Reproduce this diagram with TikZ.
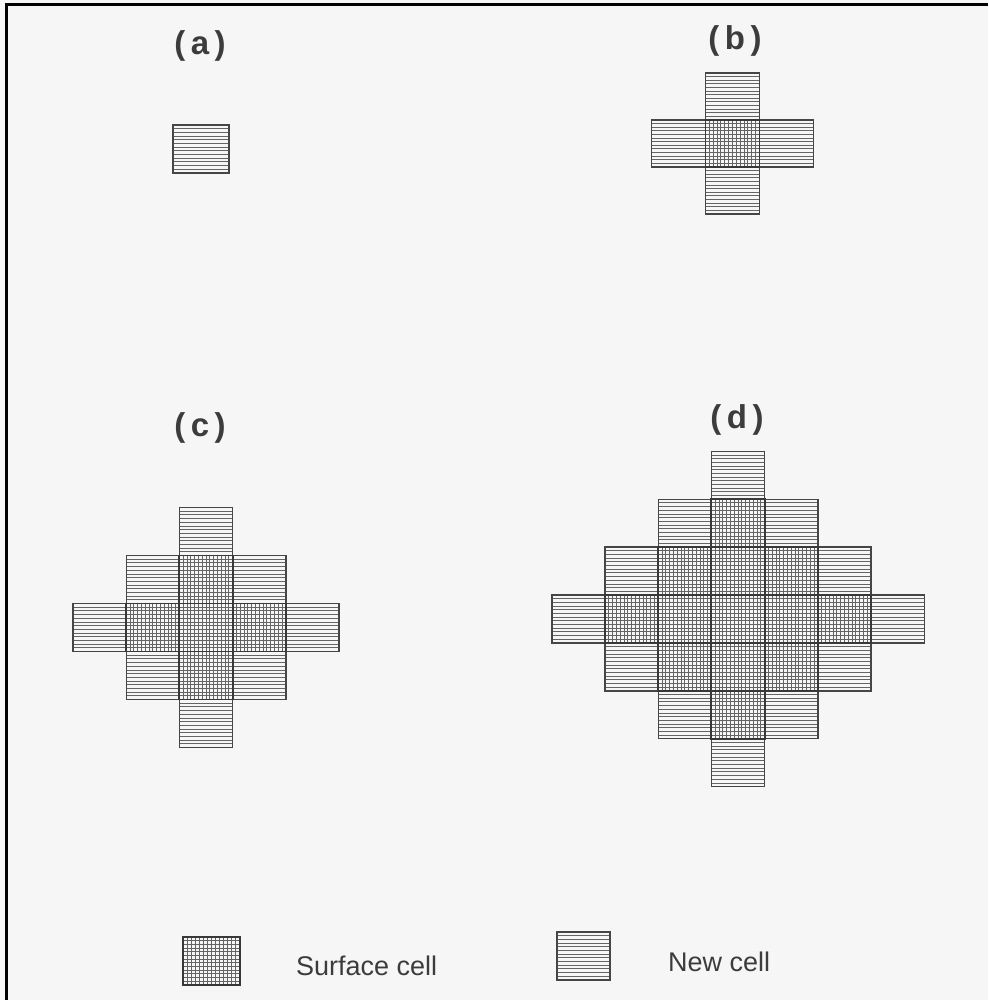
\documentclass[tikz,border=0pt]{standalone}
\usepackage{fontspec}
\setmainfont{Liberation Sans}
\definecolor{paper}{RGB}{246,246,246}
\definecolor{ink}{RGB}{70,70,70}
\definecolor{hatch}{RGB}{100,100,100}
\definecolor{labelink}{RGB}{60,60,60}
\tikzset{
  hatchline/.style={draw=hatch, line width=0.9pt},
  newborder/.style={draw=ink, line width=1.4pt},
  surfborder/.style={draw=ink!80!black, line width=1.9pt},
  panellabel/.style={font=\bfseries\fontsize{33}{33}\selectfont, text=labelink, inner sep=0pt},
  legendtext/.style={font=\fontsize{27}{27}\selectfont, text=labelink, inner sep=0pt, anchor=west},
  frameline/.style={line width=3pt, black},
}
% x0 y0 w h : horizontal-lines cell
\newcommand\newcellbox[4]{%
  \begin{scope}
    \clip (#1,#2) rectangle ++(#3,#4);
    \foreach \k in {1,...,12}{\draw[hatchline] (#1,{#2+\k*#4/13}) -- ++(#3,0);}
  \end{scope}
  \draw[newborder] (#1,#2) rectangle ++(#3,#4);
}
% x0 y0 w h : grid cell
\newcommand\surfcellbox[4]{%
  \begin{scope}
    \clip (#1,#2) rectangle ++(#3,#4);
    \foreach \k in {1,...,12}{\draw[hatchline] (#1,{#2+\k*#4/13}) -- ++(#3,0);}
    \foreach \k in {1,...,13}{\draw[hatchline] ({#1+\k*#3/14},#2) -- ++(0,#4);}
  \end{scope}
  \draw[surfborder] (#1,#2) rectangle ++(#3,#4);
}
% cx cy w h r
\newcommand\cagrid[5]{%
  \foreach \i in {-#5,...,#5}{%
    \foreach \j in {-#5,...,#5}{%
      \pgfmathtruncatemacro\dd{abs(\i)+abs(\j)}%
      \ifnum\dd=#5\relax
        \newcellbox{#1+\i*#3-#3/2}{#2+\j*#4-#4/2}{#3}{#4}
      \fi
    }%
  }%
  \foreach \i in {-#5,...,#5}{%
    \foreach \j in {-#5,...,#5}{%
      \pgfmathtruncatemacro\dd{abs(\i)+abs(\j)}%
      \ifnum\dd<#5\relax
        \surfcellbox{#1+\i*#3-#3/2}{#2+\j*#4-#4/2}{#3}{#4}
      \fi
    }%
  }%
}
\begin{document}
\begin{tikzpicture}[x=1pt,y=-1pt]
  \useasboundingbox (0,0) rectangle (988,1000);
  \fill[paper] (0,0) rectangle (988,1000);
  % frame
  \draw[frameline] (5,5) -- (988,5);
  \draw[frameline] (6,3.5) -- (6,1000);
  % labels
  \node[panellabel] (la) at (200,46) {(\,a\,)};
  \node[panellabel] (lb) at (735,41) {(\,b\,)};
  \node[panellabel] (lc) at (200,428) {(\,c\,)};
  \node[panellabel] (ld) at (737,420) {(\,d\,)};
  % (a)
  \newcellbox{173}{125}{56}{48}
  % (b)
  \cagrid{732.5}{143.5}{54}{47}{1}
  % (c)
  \cagrid{206}{627.5}{53.2}{48}{2}
  % (d)
  \cagrid{738}{619}{53.2}{47.9}{3}
  % legend
  \surfcellbox{183}{937}{57}{48}
  \node[legendtext] (ls) at (296,966) {Surface cell};
  \newcellbox{557}{932}{53}{48}
  \node[legendtext] (ln) at (668,962) {New cell};
\end{tikzpicture}
\end{document}
